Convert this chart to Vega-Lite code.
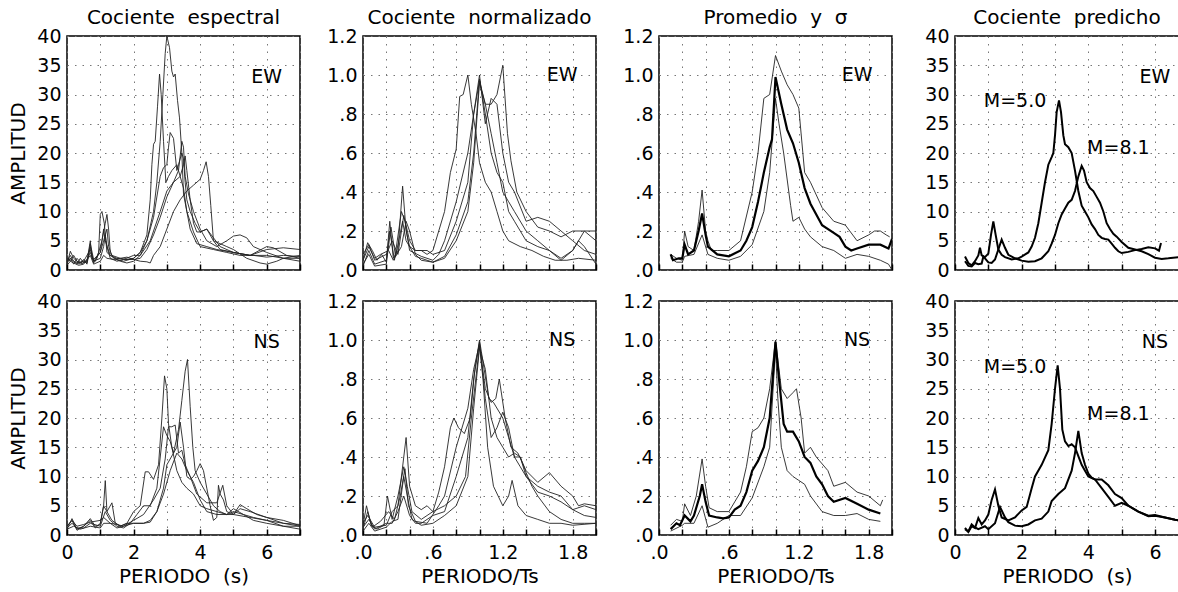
{
"$schema":"https://vega.github.io/schema/vega-lite/v6.json",
"background":"white",
"padding":{"left":8,"top":7,"right":0,"bottom":0},
"columns":4,
"spacing":{"row":31,"column":63},
"bounds":"flush",
"config":{
 "view":{"stroke":"black","strokeWidth":1.5},
 "font":"DejaVu Sans",
 "axis":{"labelFont":"DejaVu Sans","labelFontSize":19,"labelColor":"black","titleFont":"DejaVu Sans","titleFontSize":20,"titleFontWeight":"normal","titleColor":"black","domain":false,"grid":true,"gridColor":"#777","gridDash":[1.5,6],"gridWidth":1,"labelFlush":false,"labelOverlap":false,"tickColor":"black","tickWidth":1.5},
 "axisY":{"ticks":false,"labelPadding":6,"titlePadding":8},
 "axisX":{"tickSize":-6,"labelPadding":14,"titlePadding":4},
 "title":{"font":"DejaVu Sans","fontSize":20,"fontWeight":"normal","color":"black","offset":-1,"baseline":"alphabetic"}
},
"concat":[
 {"width":233,"height":234,"title":"Cociente\u00a0\u00a0espectral",
  "encoding":{"x":{"field":"x","type":"quantitative","scale":{"domain":[0,7],"nice":false},"axis":{"values":[0,1,2,3,4,5,6,7],"labels":false,"title":null}},
   "y":{"field":"y","type":"quantitative","scale":{"domain":[0,40],"nice":false},"axis":{"values":[0,5,10,15,20,25,30,35,40],"title":"AMPLITUD"}}},
  "layer":[
   {"data":{"name":"p1e"},"mark":{"type":"line","clip":true,"stroke":"#222","strokeWidth":0.9},"encoding":{"detail":{"field":"c"}}},
   {"data":{"values":[{"t":"EW","x":6,"y":33}]},"mark":{"type":"text","fontSize":19,"font":"DejaVu Sans","color":"black"},"encoding":{"text":{"field":"t"}}}
  ]},
 {"width":233,"height":234,"title":"Cociente\u00a0\u00a0normalizado",
  "encoding":{"x":{"field":"x","type":"quantitative","scale":{"domain":[0,2],"nice":false},"axis":{"values":[0,0.2,0.4,0.6,0.8,1,1.2,1.4,1.6,1.8,2],"labels":false,"title":null}},
   "y":{"field":"y","type":"quantitative","scale":{"domain":[0,1.2],"nice":false},"axis":{"values":[0,0.2,0.4,0.6,0.8,1,1.2],"title":null,"labelExpr":"datum.value < 1 ? slice(format(datum.value,'.1f'),1) : format(datum.value,'.1f')"}}},
  "layer":[
   {"data":{"name":"p2e"},"mark":{"type":"line","clip":true,"stroke":"#222","strokeWidth":0.9},"encoding":{"detail":{"field":"c"}}},
   {"data":{"values":[{"t":"EW","x":1.71,"y":1.0}]},"mark":{"type":"text","fontSize":19,"font":"DejaVu Sans","color":"black"},"encoding":{"text":{"field":"t"}}}
  ]},
 {"width":233,"height":234,"title":"Promedio\u00a0\u00a0y\u00a0\u00a0σ",
  "encoding":{"x":{"field":"x","type":"quantitative","scale":{"domain":[0,2],"nice":false},"axis":{"values":[0,0.2,0.4,0.6,0.8,1,1.2,1.4,1.6,1.8,2],"labels":false,"title":null}},
   "y":{"field":"y","type":"quantitative","scale":{"domain":[0,1.2],"nice":false},"axis":{"values":[0,0.2,0.4,0.6,0.8,1,1.2],"title":null,"labelExpr":"datum.value < 1 ? slice(format(datum.value,'.1f'),1) : format(datum.value,'.1f')"}}},
  "layer":[
   {"data":{"name":"p3e"},"transform":[{"filter":"datum.c !== 'm'"}],"mark":{"type":"line","clip":true,"stroke":"#222","strokeWidth":0.9},"encoding":{"detail":{"field":"c"}}},
   {"data":{"name":"p3e"},"transform":[{"filter":"datum.c === 'm'"}],"mark":{"type":"line","clip":true,"stroke":"black","strokeWidth":2.2},"encoding":{"detail":{"field":"c"}}},
   {"data":{"values":[{"t":"EW","x":1.7,"y":1.0}]},"mark":{"type":"text","fontSize":19,"font":"DejaVu Sans","color":"black"},"encoding":{"text":{"field":"t"}}}
  ]},
 {"width":224,"height":234,"title":"Cociente\u00a0\u00a0predicho",
  "encoding":{"x":{"field":"x","type":"quantitative","scale":{"domain":[0,6.72],"nice":false},"axis":{"values":[0,1,2,3,4,5,6],"labels":false,"title":null}},
   "y":{"field":"y","type":"quantitative","scale":{"domain":[0,40],"nice":false},"axis":{"values":[0,5,10,15,20,25,30,35,40],"title":null}}},
  "layer":[
   {"data":{"name":"p4e"},"mark":{"type":"line","clip":true,"stroke":"black","strokeWidth":2},"encoding":{"detail":{"field":"c"}}},
   {"data":{"values":[{"t":"EW","x":6,"y":33},{"t":"M=5.0","x":1.8,"y":28.9},{"t":"M=8.1","x":4.9,"y":20.9}]},"mark":{"type":"text","fontSize":19,"font":"DejaVu Sans","color":"black"},"encoding":{"text":{"field":"t"}}}
  ]},
 {"width":233,"height":234,
  "encoding":{"x":{"field":"x","type":"quantitative","scale":{"domain":[0,7],"nice":false},"axis":{"values":[0,1,2,3,4,5,6,7],"title":"PERIODO\u00a0\u00a0(s)","labelExpr":"datum.value % 2 === 0 ? datum.label : ''"}},
   "y":{"field":"y","type":"quantitative","scale":{"domain":[0,40],"nice":false},"axis":{"values":[0,5,10,15,20,25,30,35,40],"title":"AMPLITUD"}}},
  "layer":[
   {"data":{"name":"p1n"},"mark":{"type":"line","clip":true,"stroke":"#222","strokeWidth":0.9},"encoding":{"detail":{"field":"c"}}},
   {"data":{"values":[{"t":"NS","x":6,"y":33}]},"mark":{"type":"text","fontSize":19,"font":"DejaVu Sans","color":"black"},"encoding":{"text":{"field":"t"}}}
  ]},
 {"width":233,"height":234,
  "encoding":{"x":{"field":"x","type":"quantitative","scale":{"domain":[0,2],"nice":false},"axis":{"values":[0,0.2,0.4,0.6,0.8,1,1.2,1.4,1.6,1.8,2],"title":"PERIODO/Ts","labelExpr":"(round(datum.value*10) % 6 == 0) ? (datum.value < 1 ? slice(format(datum.value,'.1f'),1) : format(datum.value,'.1f')) : ''"}},
   "y":{"field":"y","type":"quantitative","scale":{"domain":[0,1.2],"nice":false},"axis":{"values":[0,0.2,0.4,0.6,0.8,1,1.2],"title":null,"labelExpr":"datum.value < 1 ? slice(format(datum.value,'.1f'),1) : format(datum.value,'.1f')"}}},
  "layer":[
   {"data":{"name":"p2n"},"mark":{"type":"line","clip":true,"stroke":"#222","strokeWidth":0.9},"encoding":{"detail":{"field":"c"}}},
   {"data":{"values":[{"t":"NS","x":1.71,"y":1.0}]},"mark":{"type":"text","fontSize":19,"font":"DejaVu Sans","color":"black"},"encoding":{"text":{"field":"t"}}}
  ]},
 {"width":233,"height":234,
  "encoding":{"x":{"field":"x","type":"quantitative","scale":{"domain":[0,2],"nice":false},"axis":{"values":[0,0.2,0.4,0.6,0.8,1,1.2,1.4,1.6,1.8,2],"title":"PERIODO/Ts","labelExpr":"(round(datum.value*10) % 6 == 0) ? (datum.value < 1 ? slice(format(datum.value,'.1f'),1) : format(datum.value,'.1f')) : ''"}},
   "y":{"field":"y","type":"quantitative","scale":{"domain":[0,1.2],"nice":false},"axis":{"values":[0,0.2,0.4,0.6,0.8,1,1.2],"title":null,"labelExpr":"datum.value < 1 ? slice(format(datum.value,'.1f'),1) : format(datum.value,'.1f')"}}},
  "layer":[
   {"data":{"name":"p3n"},"transform":[{"filter":"datum.c !== 'm'"}],"mark":{"type":"line","clip":true,"stroke":"#222","strokeWidth":0.9},"encoding":{"detail":{"field":"c"}}},
   {"data":{"name":"p3n"},"transform":[{"filter":"datum.c === 'm'"}],"mark":{"type":"line","clip":true,"stroke":"black","strokeWidth":2.2},"encoding":{"detail":{"field":"c"}}},
   {"data":{"values":[{"t":"NS","x":1.7,"y":1.0}]},"mark":{"type":"text","fontSize":19,"font":"DejaVu Sans","color":"black"},"encoding":{"text":{"field":"t"}}}
  ]},
 {"width":224,"height":234,
  "encoding":{"x":{"field":"x","type":"quantitative","scale":{"domain":[0,6.72],"nice":false},"axis":{"values":[0,1,2,3,4,5,6],"title":"PERIODO\u00a0\u00a0(s)","labelExpr":"datum.value % 2 === 0 ? datum.label : ''"}},
   "y":{"field":"y","type":"quantitative","scale":{"domain":[0,40],"nice":false},"axis":{"values":[0,5,10,15,20,25,30,35,40],"title":null}}},
  "layer":[
   {"data":{"name":"p4n"},"mark":{"type":"line","clip":true,"stroke":"black","strokeWidth":2},"encoding":{"detail":{"field":"c"}}},
   {"data":{"values":[{"t":"NS","x":6,"y":33},{"t":"M=5.0","x":1.8,"y":28.8},{"t":"M=8.1","x":4.9,"y":20.7}]},"mark":{"type":"text","fontSize":19,"font":"DejaVu Sans","color":"black"},"encoding":{"text":{"field":"t"}}}
  ]}
],
"datasets":{
"p1e":[
{"c":"a","x":0,"y":1.5},{"c":"a","x":0.1,"y":2.5},{"c":"a","x":0.2,"y":1.5},{"c":"a","x":0.3,"y":1.0},{"c":"a","x":0.4,"y":2},{"c":"a","x":0.5,"y":1.2},{"c":"a","x":0.6,"y":1.5},{"c":"a","x":0.7,"y":5},{"c":"a","x":0.75,"y":2},{"c":"a","x":0.85,"y":1.5},{"c":"a","x":0.95,"y":3},{"c":"a","x":1.0,"y":9.5},{"c":"a","x":1.05,"y":10},{"c":"a","x":1.12,"y":8},{"c":"a","x":1.2,"y":3},{"c":"a","x":1.3,"y":2.5},{"c":"a","x":1.5,"y":1.8},{"c":"a","x":1.7,"y":1.5},{"c":"a","x":2.0,"y":2},{"c":"a","x":2.2,"y":3},{"c":"a","x":2.4,"y":6},{"c":"a","x":2.5,"y":12},{"c":"a","x":2.55,"y":18},{"c":"a","x":2.6,"y":21.5},{"c":"a","x":2.65,"y":22},{"c":"a","x":2.72,"y":28},{"c":"a","x":2.78,"y":33.5},{"c":"a","x":2.83,"y":30},{"c":"a","x":2.9,"y":22},{"c":"a","x":2.97,"y":15},{"c":"a","x":3.05,"y":16},{"c":"a","x":3.15,"y":17},{"c":"a","x":3.3,"y":18},{"c":"a","x":3.5,"y":14},{"c":"a","x":3.6,"y":10},{"c":"a","x":3.7,"y":7},{"c":"a","x":3.9,"y":4.5},{"c":"a","x":4.2,"y":4},{"c":"a","x":4.5,"y":3.5},{"c":"a","x":5.0,"y":3},{"c":"a","x":5.5,"y":2.5},{"c":"a","x":6.0,"y":3.5},{"c":"a","x":6.5,"y":3.8},{"c":"a","x":7,"y":3.5},
{"c":"b","x":0,"y":1},{"c":"b","x":0.1,"y":3.2},{"c":"b","x":0.2,"y":2},{"c":"b","x":0.3,"y":1.5},{"c":"b","x":0.4,"y":1.2},{"c":"b","x":0.5,"y":1.8},{"c":"b","x":0.6,"y":1},{"c":"b","x":0.7,"y":4},{"c":"b","x":0.8,"y":1.2},{"c":"b","x":0.9,"y":2},{"c":"b","x":1.05,"y":5},{"c":"b","x":1.15,"y":8},{"c":"b","x":1.2,"y":9.5},{"c":"b","x":1.25,"y":7},{"c":"b","x":1.3,"y":3},{"c":"b","x":1.4,"y":2},{"c":"b","x":1.6,"y":1.5},{"c":"b","x":1.8,"y":1.2},{"c":"b","x":2.0,"y":1.5},{"c":"b","x":2.2,"y":2.5},{"c":"b","x":2.4,"y":5},{"c":"b","x":2.6,"y":10},{"c":"b","x":2.7,"y":15},{"c":"b","x":2.8,"y":22},{"c":"b","x":2.88,"y":30},{"c":"b","x":2.95,"y":37},{"c":"b","x":3.0,"y":40},{"c":"b","x":3.08,"y":38},{"c":"b","x":3.15,"y":34},{"c":"b","x":3.2,"y":33},{"c":"b","x":3.25,"y":33.5},{"c":"b","x":3.32,"y":29},{"c":"b","x":3.38,"y":26},{"c":"b","x":3.45,"y":20},{"c":"b","x":3.5,"y":13},{"c":"b","x":3.6,"y":10},{"c":"b","x":3.8,"y":6.5},{"c":"b","x":4.0,"y":4},{"c":"b","x":4.4,"y":3.5},{"c":"b","x":4.8,"y":3},{"c":"b","x":5.2,"y":2.5},{"c":"b","x":5.6,"y":2.5},{"c":"b","x":6.0,"y":2.2},{"c":"b","x":6.5,"y":2.5},{"c":"b","x":7,"y":2.3},
{"c":"c","x":0,"y":2},{"c":"c","x":0.1,"y":1.5},{"c":"c","x":0.2,"y":2.5},{"c":"c","x":0.35,"y":1},{"c":"c","x":0.5,"y":1.5},{"c":"c","x":0.6,"y":1.2},{"c":"c","x":0.7,"y":4.5},{"c":"c","x":0.8,"y":1.8},{"c":"c","x":1.0,"y":3},{"c":"c","x":1.1,"y":5},{"c":"c","x":1.2,"y":7},{"c":"c","x":1.25,"y":4},{"c":"c","x":1.35,"y":2.5},{"c":"c","x":1.6,"y":2},{"c":"c","x":1.8,"y":1.8},{"c":"c","x":2.0,"y":2},{"c":"c","x":2.2,"y":3},{"c":"c","x":2.4,"y":5},{"c":"c","x":2.6,"y":9},{"c":"c","x":2.8,"y":16},{"c":"c","x":2.9,"y":17.5},{"c":"c","x":3.0,"y":18},{"c":"c","x":3.05,"y":21},{"c":"c","x":3.1,"y":23.5},{"c":"c","x":3.2,"y":22.5},{"c":"c","x":3.3,"y":17},{"c":"c","x":3.35,"y":18},{"c":"c","x":3.45,"y":20},{"c":"c","x":3.5,"y":19},{"c":"c","x":3.55,"y":15},{"c":"c","x":3.6,"y":12},{"c":"c","x":3.7,"y":10},{"c":"c","x":3.85,"y":8},{"c":"c","x":4.0,"y":6.5},{"c":"c","x":4.2,"y":7},{"c":"c","x":4.4,"y":5},{"c":"c","x":4.6,"y":3.5},{"c":"c","x":5.0,"y":3},{"c":"c","x":5.5,"y":2.5},{"c":"c","x":6.0,"y":2.5},{"c":"c","x":6.5,"y":2},{"c":"c","x":7,"y":2},
{"c":"d","x":0,"y":1.2},{"c":"d","x":0.1,"y":2},{"c":"d","x":0.2,"y":1},{"c":"d","x":0.3,"y":2},{"c":"d","x":0.45,"y":1},{"c":"d","x":0.6,"y":1.8},{"c":"d","x":0.7,"y":3},{"c":"d","x":0.8,"y":1.5},{"c":"d","x":1.0,"y":2},{"c":"d","x":1.1,"y":4},{"c":"d","x":1.15,"y":6},{"c":"d","x":1.2,"y":4},{"c":"d","x":1.3,"y":2},{"c":"d","x":1.5,"y":1.5},{"c":"d","x":1.7,"y":1.8},{"c":"d","x":2.0,"y":1.8},{"c":"d","x":2.2,"y":2},{"c":"d","x":2.4,"y":3.5},{"c":"d","x":2.6,"y":6},{"c":"d","x":2.8,"y":9},{"c":"d","x":3.0,"y":12.5},{"c":"d","x":3.2,"y":15},{"c":"d","x":3.35,"y":17},{"c":"d","x":3.45,"y":22},{"c":"d","x":3.5,"y":21},{"c":"d","x":3.55,"y":16},{"c":"d","x":3.65,"y":13},{"c":"d","x":3.8,"y":10},{"c":"d","x":4.0,"y":7},{"c":"d","x":4.2,"y":5},{"c":"d","x":4.5,"y":4},{"c":"d","x":4.8,"y":5},{"c":"d","x":5.0,"y":5.8},{"c":"d","x":5.2,"y":6},{"c":"d","x":5.4,"y":5.5},{"c":"d","x":5.6,"y":4},{"c":"d","x":6.0,"y":3},{"c":"d","x":6.5,"y":2},{"c":"d","x":7,"y":1.5},
{"c":"e","x":0,"y":0.8},{"c":"e","x":0.1,"y":1.5},{"c":"e","x":0.2,"y":1.2},{"c":"e","x":0.35,"y":0.8},{"c":"e","x":0.5,"y":1},{"c":"e","x":0.7,"y":2.5},{"c":"e","x":0.8,"y":1},{"c":"e","x":1.0,"y":1.5},{"c":"e","x":1.1,"y":2.5},{"c":"e","x":1.2,"y":2},{"c":"e","x":1.4,"y":1.8},{"c":"e","x":1.6,"y":2},{"c":"e","x":1.8,"y":2.2},{"c":"e","x":2.0,"y":1.8},{"c":"e","x":2.2,"y":1.5},{"c":"e","x":2.4,"y":1.4},{"c":"e","x":2.5,"y":1.2},{"c":"e","x":2.6,"y":2.5},{"c":"e","x":2.8,"y":4},{"c":"e","x":3.0,"y":7},{"c":"e","x":3.2,"y":10},{"c":"e","x":3.4,"y":12},{"c":"e","x":3.6,"y":13.5},{"c":"e","x":3.8,"y":14.5},{"c":"e","x":4.0,"y":15.5},{"c":"e","x":4.1,"y":17},{"c":"e","x":4.18,"y":18.5},{"c":"e","x":4.25,"y":16},{"c":"e","x":4.32,"y":11},{"c":"e","x":4.4,"y":5},{"c":"e","x":4.6,"y":4.5},{"c":"e","x":4.8,"y":4},{"c":"e","x":5.0,"y":3.5},{"c":"e","x":5.4,"y":2},{"c":"e","x":5.8,"y":1.2},{"c":"e","x":6.0,"y":1},{"c":"e","x":6.3,"y":1.5},{"c":"e","x":6.5,"y":2},{"c":"e","x":7,"y":2.5},
{"c":"f","x":0,"y":1.5},{"c":"f","x":0.1,"y":2},{"c":"f","x":0.2,"y":1.5},{"c":"f","x":0.3,"y":1.2},{"c":"f","x":0.5,"y":1.5},{"c":"f","x":0.7,"y":3.5},{"c":"f","x":0.8,"y":1.5},{"c":"f","x":1.0,"y":3},{"c":"f","x":1.1,"y":7},{"c":"f","x":1.15,"y":5},{"c":"f","x":1.3,"y":2.5},{"c":"f","x":1.5,"y":2},{"c":"f","x":1.7,"y":1.8},{"c":"f","x":2.0,"y":2.5},{"c":"f","x":2.2,"y":2.5},{"c":"f","x":2.5,"y":5},{"c":"f","x":2.8,"y":10},{"c":"f","x":3.0,"y":13.5},{"c":"f","x":3.2,"y":15},{"c":"f","x":3.4,"y":16},{"c":"f","x":3.5,"y":18},{"c":"f","x":3.55,"y":19.5},{"c":"f","x":3.6,"y":17},{"c":"f","x":3.7,"y":12},{"c":"f","x":3.8,"y":8},{"c":"f","x":3.9,"y":6.5},{"c":"f","x":4.0,"y":6.5},{"c":"f","x":4.2,"y":7},{"c":"f","x":4.4,"y":5.5},{"c":"f","x":4.6,"y":4},{"c":"f","x":5.0,"y":3},{"c":"f","x":5.5,"y":2.5},{"c":"f","x":6.0,"y":4},{"c":"f","x":6.2,"y":3.8},{"c":"f","x":6.6,"y":2.5},{"c":"f","x":7,"y":2}
],
"p1n":[
{"c":"p","x":0,"y":1},{"c":"p","x":0.15,"y":2.8},{"c":"p","x":0.3,"y":1},{"c":"p","x":0.5,"y":1.5},{"c":"p","x":0.7,"y":2.5},{"c":"p","x":0.85,"y":1.2},{"c":"p","x":1.0,"y":2},{"c":"p","x":1.1,"y":5},{"c":"p","x":1.2,"y":4},{"c":"p","x":1.35,"y":2.5},{"c":"p","x":1.6,"y":1.5},{"c":"p","x":1.8,"y":2},{"c":"p","x":2.0,"y":4},{"c":"p","x":2.2,"y":5},{"c":"p","x":2.35,"y":10.8},{"c":"p","x":2.45,"y":10.8},{"c":"p","x":2.6,"y":9.5},{"c":"p","x":2.75,"y":12},{"c":"p","x":2.85,"y":20},{"c":"p","x":2.93,"y":27.2},{"c":"p","x":3.0,"y":25},{"c":"p","x":3.05,"y":19},{"c":"p","x":3.15,"y":15},{"c":"p","x":3.3,"y":11},{"c":"p","x":3.45,"y":9},{"c":"p","x":3.6,"y":8},{"c":"p","x":3.8,"y":7},{"c":"p","x":4.0,"y":5},{"c":"p","x":4.2,"y":4.5},{"c":"p","x":4.5,"y":4},{"c":"p","x":4.8,"y":3.5},{"c":"p","x":5.0,"y":4},{"c":"p","x":5.3,"y":3.5},{"c":"p","x":5.6,"y":3},{"c":"p","x":6.0,"y":2.5},{"c":"p","x":6.5,"y":2},{"c":"p","x":7,"y":1.5},
{"c":"q","x":0,"y":1.5},{"c":"q","x":0.15,"y":2.5},{"c":"q","x":0.3,"y":0.8},{"c":"q","x":0.5,"y":1.5},{"c":"q","x":0.7,"y":2.8},{"c":"q","x":0.85,"y":1.5},{"c":"q","x":1.0,"y":1.8},{"c":"q","x":1.1,"y":5},{"c":"q","x":1.15,"y":9.3},{"c":"q","x":1.2,"y":4},{"c":"q","x":1.35,"y":5.5},{"c":"q","x":1.45,"y":2},{"c":"q","x":1.6,"y":1.5},{"c":"q","x":1.8,"y":2},{"c":"q","x":2.0,"y":2},{"c":"q","x":2.3,"y":2},{"c":"q","x":2.5,"y":2.5},{"c":"q","x":2.7,"y":4},{"c":"q","x":2.9,"y":8},{"c":"q","x":3.0,"y":12},{"c":"q","x":3.2,"y":14},{"c":"q","x":3.35,"y":18},{"c":"q","x":3.45,"y":23},{"c":"q","x":3.55,"y":28},{"c":"q","x":3.62,"y":30},{"c":"q","x":3.7,"y":22},{"c":"q","x":3.78,"y":15},{"c":"q","x":3.85,"y":11},{"c":"q","x":4.0,"y":9},{"c":"q","x":4.2,"y":7},{"c":"q","x":4.4,"y":5},{"c":"q","x":4.6,"y":4},{"c":"q","x":4.8,"y":3.5},{"c":"q","x":5.0,"y":3.5},{"c":"q","x":5.5,"y":3},{"c":"q","x":6.0,"y":2.5},{"c":"q","x":6.5,"y":1.5},{"c":"q","x":7,"y":1},
{"c":"r","x":0,"y":1.2},{"c":"r","x":0.15,"y":2},{"c":"r","x":0.3,"y":1.2},{"c":"r","x":0.5,"y":1.2},{"c":"r","x":0.7,"y":2},{"c":"r","x":1.0,"y":1.5},{"c":"r","x":1.15,"y":4},{"c":"r","x":1.3,"y":2.5},{"c":"r","x":1.5,"y":1.5},{"c":"r","x":1.7,"y":1.2},{"c":"r","x":1.9,"y":2},{"c":"r","x":2.1,"y":3.5},{"c":"r","x":2.3,"y":5},{"c":"r","x":2.5,"y":5},{"c":"r","x":2.7,"y":8},{"c":"r","x":2.9,"y":18.5},{"c":"r","x":3.0,"y":17},{"c":"r","x":3.1,"y":16},{"c":"r","x":3.2,"y":14},{"c":"r","x":3.3,"y":15},{"c":"r","x":3.4,"y":19.3},{"c":"r","x":3.5,"y":15},{"c":"r","x":3.6,"y":10},{"c":"r","x":3.7,"y":9.5},{"c":"r","x":3.8,"y":10},{"c":"r","x":3.9,"y":11},{"c":"r","x":4.0,"y":12.2},{"c":"r","x":4.1,"y":11},{"c":"r","x":4.2,"y":8},{"c":"r","x":4.3,"y":5},{"c":"r","x":4.4,"y":2.5},{"c":"r","x":4.5,"y":3},{"c":"r","x":4.55,"y":8.5},{"c":"r","x":4.6,"y":7},{"c":"r","x":4.7,"y":6},{"c":"r","x":4.8,"y":4},{"c":"r","x":5.0,"y":3.5},{"c":"r","x":5.2,"y":5.2},{"c":"r","x":5.4,"y":4.5},{"c":"r","x":5.7,"y":3.5},{"c":"r","x":6.0,"y":3},{"c":"r","x":6.5,"y":2},{"c":"r","x":7,"y":1.8},
{"c":"s","x":0,"y":1.5},{"c":"s","x":0.15,"y":2.5},{"c":"s","x":0.3,"y":1.5},{"c":"s","x":0.5,"y":1.8},{"c":"s","x":0.7,"y":2.2},{"c":"s","x":1.0,"y":2.5},{"c":"s","x":1.1,"y":3},{"c":"s","x":1.3,"y":2},{"c":"s","x":1.5,"y":1.8},{"c":"s","x":1.7,"y":1.5},{"c":"s","x":2.0,"y":2.5},{"c":"s","x":2.3,"y":3.5},{"c":"s","x":2.6,"y":6},{"c":"s","x":2.8,"y":8},{"c":"s","x":2.95,"y":13},{"c":"s","x":3.05,"y":18.5},{"c":"s","x":3.15,"y":18.5},{"c":"s","x":3.25,"y":18.8},{"c":"s","x":3.35,"y":14},{"c":"s","x":3.45,"y":14.5},{"c":"s","x":3.55,"y":12},{"c":"s","x":3.7,"y":10},{"c":"s","x":3.9,"y":7},{"c":"s","x":4.2,"y":5.5},{"c":"s","x":4.5,"y":5.5},{"c":"s","x":4.68,"y":8.5},{"c":"s","x":4.8,"y":5},{"c":"s","x":5.0,"y":3.5},{"c":"s","x":5.2,"y":4.5},{"c":"s","x":5.5,"y":4},{"c":"s","x":6.0,"y":3},{"c":"s","x":6.5,"y":2.5},{"c":"s","x":7,"y":1.6},
{"c":"t","x":0,"y":1},{"c":"t","x":0.2,"y":1.5},{"c":"t","x":0.4,"y":1},{"c":"t","x":0.7,"y":1.5},{"c":"t","x":1.0,"y":1.2},{"c":"t","x":1.1,"y":2},{"c":"t","x":1.3,"y":2},{"c":"t","x":1.5,"y":1.2},{"c":"t","x":1.7,"y":1.5},{"c":"t","x":2.0,"y":2},{"c":"t","x":2.3,"y":2},{"c":"t","x":2.5,"y":2.2},{"c":"t","x":2.7,"y":4},{"c":"t","x":2.9,"y":7},{"c":"t","x":3.1,"y":11},{"c":"t","x":3.3,"y":14},{"c":"t","x":3.45,"y":13},{"c":"t","x":3.6,"y":11},{"c":"t","x":3.8,"y":9},{"c":"t","x":4.0,"y":6},{"c":"t","x":4.2,"y":4},{"c":"t","x":4.5,"y":3.5},{"c":"t","x":4.8,"y":3.5},{"c":"t","x":5.0,"y":4.5},{"c":"t","x":5.3,"y":3.5},{"c":"t","x":5.6,"y":2.5},{"c":"t","x":6.0,"y":2},{"c":"t","x":6.5,"y":1.5},{"c":"t","x":7,"y":1.5}
],
"p2e":[
{"c":"a","x":0,"y":0.05},{"c":"a","x":0.04,"y":0.14},{"c":"a","x":0.08,"y":0.1},{"c":"a","x":0.12,"y":0.05},{"c":"a","x":0.16,"y":0.08},{"c":"a","x":0.2,"y":0.04},{"c":"a","x":0.23,"y":0.25},{"c":"a","x":0.26,"y":0.06},{"c":"a","x":0.3,"y":0.1},{"c":"a","x":0.34,"y":0.43},{"c":"a","x":0.37,"y":0.2},{"c":"a","x":0.4,"y":0.12},{"c":"a","x":0.45,"y":0.1},{"c":"a","x":0.5,"y":0.1},{"c":"a","x":0.55,"y":0.08},{"c":"a","x":0.6,"y":0.1},{"c":"a","x":0.65,"y":0.2},{"c":"a","x":0.7,"y":0.3},{"c":"a","x":0.75,"y":0.5},{"c":"a","x":0.8,"y":0.62},{"c":"a","x":0.83,"y":0.89},{"c":"a","x":0.86,"y":0.9},{"c":"a","x":0.9,"y":1.0},{"c":"a","x":0.93,"y":0.85},{"c":"a","x":0.97,"y":0.7},{"c":"a","x":1.0,"y":0.55},{"c":"a","x":1.05,"y":0.45},{"c":"a","x":1.1,"y":0.4},{"c":"a","x":1.15,"y":0.3},{"c":"a","x":1.2,"y":0.2},{"c":"a","x":1.25,"y":0.15},{"c":"a","x":1.35,"y":0.12},{"c":"a","x":1.45,"y":0.1},{"c":"a","x":1.55,"y":0.07},{"c":"a","x":1.65,"y":0.05},{"c":"a","x":1.75,"y":0.05},{"c":"a","x":1.85,"y":0.06},{"c":"a","x":2.0,"y":0.05},
{"c":"b","x":0,"y":0.02},{"c":"b","x":0.05,"y":0.1},{"c":"b","x":0.1,"y":0.03},{"c":"b","x":0.2,"y":0.05},{"c":"b","x":0.23,"y":0.2},{"c":"b","x":0.27,"y":0.05},{"c":"b","x":0.33,"y":0.3},{"c":"b","x":0.36,"y":0.25},{"c":"b","x":0.4,"y":0.1},{"c":"b","x":0.5,"y":0.07},{"c":"b","x":0.6,"y":0.05},{"c":"b","x":0.65,"y":0.08},{"c":"b","x":0.7,"y":0.15},{"c":"b","x":0.8,"y":0.35},{"c":"b","x":0.9,"y":0.6},{"c":"b","x":0.95,"y":0.8},{"c":"b","x":1.0,"y":0.97},{"c":"b","x":1.05,"y":0.85},{"c":"b","x":1.1,"y":0.85},{"c":"b","x":1.15,"y":0.9},{"c":"b","x":1.2,"y":1.05},{"c":"b","x":1.24,"y":0.7},{"c":"b","x":1.27,"y":0.56},{"c":"b","x":1.32,"y":0.4},{"c":"b","x":1.4,"y":0.3},{"c":"b","x":1.5,"y":0.22},{"c":"b","x":1.6,"y":0.2},{"c":"b","x":1.7,"y":0.17},{"c":"b","x":1.8,"y":0.2},{"c":"b","x":1.9,"y":0.2},{"c":"b","x":2.0,"y":0.15},
{"c":"c","x":0,"y":0.08},{"c":"c","x":0.05,"y":0.13},{"c":"c","x":0.1,"y":0.05},{"c":"c","x":0.2,"y":0.08},{"c":"c","x":0.25,"y":0.15},{"c":"c","x":0.3,"y":0.08},{"c":"c","x":0.35,"y":0.28},{"c":"c","x":0.4,"y":0.15},{"c":"c","x":0.45,"y":0.1},{"c":"c","x":0.55,"y":0.1},{"c":"c","x":0.6,"y":0.08},{"c":"c","x":0.7,"y":0.1},{"c":"c","x":0.8,"y":0.25},{"c":"c","x":0.9,"y":0.45},{"c":"c","x":0.95,"y":0.8},{"c":"c","x":1.0,"y":1.0},{"c":"c","x":1.05,"y":0.75},{"c":"c","x":1.1,"y":0.88},{"c":"c","x":1.15,"y":0.85},{"c":"c","x":1.2,"y":0.6},{"c":"c","x":1.25,"y":0.45},{"c":"c","x":1.3,"y":0.4},{"c":"c","x":1.4,"y":0.25},{"c":"c","x":1.5,"y":0.27},{"c":"c","x":1.6,"y":0.25},{"c":"c","x":1.7,"y":0.2},{"c":"c","x":1.8,"y":0.15},{"c":"c","x":1.9,"y":0.1},{"c":"c","x":2.0,"y":0.08},
{"c":"d","x":0,"y":0.03},{"c":"d","x":0.05,"y":0.08},{"c":"d","x":0.1,"y":0.02},{"c":"d","x":0.2,"y":0.03},{"c":"d","x":0.24,"y":0.22},{"c":"d","x":0.28,"y":0.07},{"c":"d","x":0.34,"y":0.25},{"c":"d","x":0.37,"y":0.15},{"c":"d","x":0.45,"y":0.07},{"c":"d","x":0.55,"y":0.05},{"c":"d","x":0.6,"y":0.04},{"c":"d","x":0.7,"y":0.07},{"c":"d","x":0.8,"y":0.18},{"c":"d","x":0.9,"y":0.35},{"c":"d","x":0.95,"y":0.6},{"c":"d","x":1.0,"y":0.98},{"c":"d","x":1.05,"y":0.8},{"c":"d","x":1.1,"y":0.6},{"c":"d","x":1.15,"y":0.5},{"c":"d","x":1.2,"y":0.45},{"c":"d","x":1.25,"y":0.3},{"c":"d","x":1.3,"y":0.25},{"c":"d","x":1.35,"y":0.2},{"c":"d","x":1.4,"y":0.15},{"c":"d","x":1.5,"y":0.12},{"c":"d","x":1.6,"y":0.1},{"c":"d","x":1.7,"y":0.06},{"c":"d","x":1.8,"y":0.1},{"c":"d","x":1.9,"y":0.2},{"c":"d","x":2.0,"y":0.2},
{"c":"e","x":0,"y":0.05},{"c":"e","x":0.05,"y":0.12},{"c":"e","x":0.1,"y":0.06},{"c":"e","x":0.15,"y":0.08},{"c":"e","x":0.22,"y":0.1},{"c":"e","x":0.26,"y":0.05},{"c":"e","x":0.33,"y":0.12},{"c":"e","x":0.37,"y":0.25},{"c":"e","x":0.4,"y":0.2},{"c":"e","x":0.45,"y":0.08},{"c":"e","x":0.5,"y":0.05},{"c":"e","x":0.6,"y":0.04},{"c":"e","x":0.7,"y":0.06},{"c":"e","x":0.8,"y":0.15},{"c":"e","x":0.9,"y":0.3},{"c":"e","x":0.95,"y":0.55},{"c":"e","x":1.0,"y":0.96},{"c":"e","x":1.05,"y":0.85},{"c":"e","x":1.1,"y":0.7},{"c":"e","x":1.15,"y":0.55},{"c":"e","x":1.2,"y":0.4},{"c":"e","x":1.25,"y":0.35},{"c":"e","x":1.3,"y":0.3},{"c":"e","x":1.4,"y":0.2},{"c":"e","x":1.5,"y":0.15},{"c":"e","x":1.6,"y":0.1},{"c":"e","x":1.7,"y":0.05},{"c":"e","x":1.8,"y":0.1},{"c":"e","x":1.85,"y":0.15},{"c":"e","x":1.9,"y":0.12},{"c":"e","x":2.0,"y":0.03}
],
"p2n":[
{"c":"a","x":0,"y":0.05},{"c":"a","x":0.03,"y":0.15},{"c":"a","x":0.07,"y":0.05},{"c":"a","x":0.12,"y":0.03},{"c":"a","x":0.18,"y":0.05},{"c":"a","x":0.21,"y":0.2},{"c":"a","x":0.25,"y":0.08},{"c":"a","x":0.3,"y":0.2},{"c":"a","x":0.35,"y":0.35},{"c":"a","x":0.38,"y":0.25},{"c":"a","x":0.42,"y":0.12},{"c":"a","x":0.5,"y":0.08},{"c":"a","x":0.55,"y":0.1},{"c":"a","x":0.6,"y":0.12},{"c":"a","x":0.65,"y":0.22},{"c":"a","x":0.7,"y":0.35},{"c":"a","x":0.75,"y":0.55},{"c":"a","x":0.78,"y":0.6},{"c":"a","x":0.82,"y":0.55},{"c":"a","x":0.87,"y":0.52},{"c":"a","x":0.92,"y":0.6},{"c":"a","x":0.96,"y":0.85},{"c":"a","x":1.0,"y":1.0},{"c":"a","x":1.04,"y":0.85},{"c":"a","x":1.08,"y":0.7},{"c":"a","x":1.12,"y":0.68},{"c":"a","x":1.2,"y":0.6},{"c":"a","x":1.25,"y":0.5},{"c":"a","x":1.3,"y":0.4},{"c":"a","x":1.35,"y":0.35},{"c":"a","x":1.4,"y":0.3},{"c":"a","x":1.5,"y":0.25},{"c":"a","x":1.6,"y":0.22},{"c":"a","x":1.7,"y":0.2},{"c":"a","x":1.8,"y":0.13},{"c":"a","x":1.9,"y":0.15},{"c":"a","x":2.0,"y":0.13},
{"c":"b","x":0,"y":0.03},{"c":"b","x":0.04,"y":0.12},{"c":"b","x":0.08,"y":0.04},{"c":"b","x":0.15,"y":0.07},{"c":"b","x":0.22,"y":0.12},{"c":"b","x":0.27,"y":0.08},{"c":"b","x":0.32,"y":0.2},{"c":"b","x":0.36,"y":0.34},{"c":"b","x":0.39,"y":0.15},{"c":"b","x":0.45,"y":0.07},{"c":"b","x":0.55,"y":0.06},{"c":"b","x":0.65,"y":0.15},{"c":"b","x":0.7,"y":0.2},{"c":"b","x":0.8,"y":0.45},{"c":"b","x":0.9,"y":0.65},{"c":"b","x":0.95,"y":0.85},{"c":"b","x":1.0,"y":0.98},{"c":"b","x":1.05,"y":0.75},{"c":"b","x":1.1,"y":0.68},{"c":"b","x":1.14,"y":0.7},{"c":"b","x":1.17,"y":0.8},{"c":"b","x":1.22,"y":0.6},{"c":"b","x":1.27,"y":0.45},{"c":"b","x":1.33,"y":0.42},{"c":"b","x":1.4,"y":0.33},{"c":"b","x":1.5,"y":0.27},{"c":"b","x":1.6,"y":0.32},{"c":"b","x":1.7,"y":0.25},{"c":"b","x":1.8,"y":0.2},{"c":"b","x":1.85,"y":0.15},{"c":"b","x":1.9,"y":0.16},{"c":"b","x":2.0,"y":0.15},
{"c":"c","x":0,"y":0.06},{"c":"c","x":0.04,"y":0.1},{"c":"c","x":0.1,"y":0.04},{"c":"c","x":0.2,"y":0.05},{"c":"c","x":0.25,"y":0.12},{"c":"c","x":0.3,"y":0.15},{"c":"c","x":0.37,"y":0.5},{"c":"c","x":0.4,"y":0.25},{"c":"c","x":0.45,"y":0.15},{"c":"c","x":0.5,"y":0.13},{"c":"c","x":0.55,"y":0.15},{"c":"c","x":0.6,"y":0.12},{"c":"c","x":0.7,"y":0.15},{"c":"c","x":0.8,"y":0.2},{"c":"c","x":0.88,"y":0.3},{"c":"c","x":0.93,"y":0.6},{"c":"c","x":1.0,"y":0.97},{"c":"c","x":1.03,"y":0.8},{"c":"c","x":1.07,"y":0.45},{"c":"c","x":1.12,"y":0.25},{"c":"c","x":1.2,"y":0.15},{"c":"c","x":1.25,"y":0.2},{"c":"c","x":1.28,"y":0.28},{"c":"c","x":1.33,"y":0.15},{"c":"c","x":1.4,"y":0.1},{"c":"c","x":1.5,"y":0.08},{"c":"c","x":1.6,"y":0.06},{"c":"c","x":1.7,"y":0.06},{"c":"c","x":1.8,"y":0.05},{"c":"c","x":2.0,"y":0.06},
{"c":"d","x":0,"y":0.04},{"c":"d","x":0.05,"y":0.08},{"c":"d","x":0.1,"y":0.03},{"c":"d","x":0.2,"y":0.06},{"c":"d","x":0.25,"y":0.06},{"c":"d","x":0.3,"y":0.12},{"c":"d","x":0.35,"y":0.2},{"c":"d","x":0.4,"y":0.1},{"c":"d","x":0.45,"y":0.06},{"c":"d","x":0.5,"y":0.06},{"c":"d","x":0.6,"y":0.1},{"c":"d","x":0.7,"y":0.12},{"c":"d","x":0.8,"y":0.3},{"c":"d","x":0.85,"y":0.4},{"c":"d","x":0.9,"y":0.5},{"c":"d","x":0.95,"y":0.8},{"c":"d","x":1.0,"y":0.99},{"c":"d","x":1.05,"y":0.7},{"c":"d","x":1.1,"y":0.5},{"c":"d","x":1.15,"y":0.55},{"c":"d","x":1.2,"y":0.63},{"c":"d","x":1.25,"y":0.55},{"c":"d","x":1.3,"y":0.4},{"c":"d","x":1.35,"y":0.4},{"c":"d","x":1.4,"y":0.3},{"c":"d","x":1.5,"y":0.22},{"c":"d","x":1.6,"y":0.2},{"c":"d","x":1.7,"y":0.17},{"c":"d","x":1.8,"y":0.13},{"c":"d","x":1.9,"y":0.1},{"c":"d","x":2.0,"y":0.09},
{"c":"e","x":0,"y":0.02},{"c":"e","x":0.05,"y":0.06},{"c":"e","x":0.1,"y":0.02},{"c":"e","x":0.2,"y":0.04},{"c":"e","x":0.25,"y":0.07},{"c":"e","x":0.3,"y":0.08},{"c":"e","x":0.35,"y":0.3},{"c":"e","x":0.38,"y":0.2},{"c":"e","x":0.42,"y":0.08},{"c":"e","x":0.5,"y":0.05},{"c":"e","x":0.6,"y":0.06},{"c":"e","x":0.7,"y":0.1},{"c":"e","x":0.8,"y":0.15},{"c":"e","x":0.9,"y":0.3},{"c":"e","x":0.95,"y":0.65},{"c":"e","x":1.0,"y":0.96},{"c":"e","x":1.05,"y":0.85},{"c":"e","x":1.1,"y":0.6},{"c":"e","x":1.15,"y":0.5},{"c":"e","x":1.2,"y":0.45},{"c":"e","x":1.25,"y":0.4},{"c":"e","x":1.3,"y":0.42},{"c":"e","x":1.35,"y":0.4},{"c":"e","x":1.4,"y":0.32},{"c":"e","x":1.45,"y":0.25},{"c":"e","x":1.5,"y":0.2},{"c":"e","x":1.6,"y":0.12},{"c":"e","x":1.7,"y":0.08},{"c":"e","x":1.8,"y":0.06},{"c":"e","x":1.9,"y":0.06},{"c":"e","x":2.0,"y":0.06}
],
"p3e":[
{"c":"m","x":0.1,"y":0.08},{"c":"m","x":0.12,"y":0.05},{"c":"m","x":0.17,"y":0.06},{"c":"m","x":0.2,"y":0.06},{"c":"m","x":0.22,"y":0.13},{"c":"m","x":0.25,"y":0.08},{"c":"m","x":0.3,"y":0.1},{"c":"m","x":0.34,"y":0.2},{"c":"m","x":0.37,"y":0.29},{"c":"m","x":0.4,"y":0.18},{"c":"m","x":0.42,"y":0.12},{"c":"m","x":0.5,"y":0.08},{"c":"m","x":0.6,"y":0.07},{"c":"m","x":0.7,"y":0.1},{"c":"m","x":0.75,"y":0.15},{"c":"m","x":0.8,"y":0.22},{"c":"m","x":0.85,"y":0.35},{"c":"m","x":0.9,"y":0.5},{"c":"m","x":0.95,"y":0.63},{"c":"m","x":0.97,"y":0.67},{"c":"m","x":1.0,"y":0.99},{"c":"m","x":1.05,"y":0.85},{"c":"m","x":1.1,"y":0.72},{"c":"m","x":1.15,"y":0.65},{"c":"m","x":1.2,"y":0.55},{"c":"m","x":1.25,"y":0.42},{"c":"m","x":1.3,"y":0.34},{"c":"m","x":1.4,"y":0.23},{"c":"m","x":1.5,"y":0.19},{"c":"m","x":1.55,"y":0.17},{"c":"m","x":1.6,"y":0.12},{"c":"m","x":1.65,"y":0.1},{"c":"m","x":1.7,"y":0.11},{"c":"m","x":1.8,"y":0.13},{"c":"m","x":1.9,"y":0.13},{"c":"m","x":1.97,"y":0.11},{"c":"m","x":2.0,"y":0.16},
{"c":"h","x":0.1,"y":0.08},{"c":"h","x":0.15,"y":0.06},{"c":"h","x":0.2,"y":0.05},{"c":"h","x":0.22,"y":0.2},{"c":"h","x":0.25,"y":0.12},{"c":"h","x":0.3,"y":0.1},{"c":"h","x":0.34,"y":0.25},{"c":"h","x":0.37,"y":0.41},{"c":"h","x":0.4,"y":0.2},{"c":"h","x":0.42,"y":0.15},{"c":"h","x":0.45,"y":0.1},{"c":"h","x":0.5,"y":0.1},{"c":"h","x":0.6,"y":0.1},{"c":"h","x":0.7,"y":0.15},{"c":"h","x":0.8,"y":0.4},{"c":"h","x":0.85,"y":0.6},{"c":"h","x":0.9,"y":0.88},{"c":"h","x":0.95,"y":0.9},{"c":"h","x":1.0,"y":1.1},{"c":"h","x":1.05,"y":1.02},{"c":"h","x":1.1,"y":0.95},{"c":"h","x":1.15,"y":0.9},{"c":"h","x":1.2,"y":0.83},{"c":"h","x":1.25,"y":0.5},{"c":"h","x":1.3,"y":0.45},{"c":"h","x":1.4,"y":0.32},{"c":"h","x":1.5,"y":0.25},{"c":"h","x":1.6,"y":0.23},{"c":"h","x":1.7,"y":0.15},{"c":"h","x":1.8,"y":0.18},{"c":"h","x":1.85,"y":0.2},{"c":"h","x":1.9,"y":0.2},{"c":"h","x":1.95,"y":0.18},{"c":"h","x":1.98,"y":0.17},
{"c":"l","x":0.1,"y":0.06},{"c":"l","x":0.15,"y":0.04},{"c":"l","x":0.2,"y":0.04},{"c":"l","x":0.22,"y":0.07},{"c":"l","x":0.3,"y":0.08},{"c":"l","x":0.37,"y":0.18},{"c":"l","x":0.42,"y":0.08},{"c":"l","x":0.5,"y":0.06},{"c":"l","x":0.6,"y":0.05},{"c":"l","x":0.7,"y":0.07},{"c":"l","x":0.8,"y":0.13},{"c":"l","x":0.9,"y":0.3},{"c":"l","x":0.95,"y":0.5},{"c":"l","x":1.0,"y":0.88},{"c":"l","x":1.03,"y":0.75},{"c":"l","x":1.07,"y":0.6},{"c":"l","x":1.13,"y":0.33},{"c":"l","x":1.15,"y":0.25},{"c":"l","x":1.2,"y":0.27},{"c":"l","x":1.25,"y":0.21},{"c":"l","x":1.3,"y":0.17},{"c":"l","x":1.4,"y":0.12},{"c":"l","x":1.5,"y":0.1},{"c":"l","x":1.6,"y":0.06},{"c":"l","x":1.7,"y":0.08},{"c":"l","x":1.8,"y":0.07},{"c":"l","x":1.9,"y":0.05},{"c":"l","x":1.97,"y":0.03},{"c":"l","x":2.0,"y":0.0}
],
"p3n":[
{"c":"m","x":0.1,"y":0.03},{"c":"m","x":0.15,"y":0.06},{"c":"m","x":0.18,"y":0.05},{"c":"m","x":0.22,"y":0.1},{"c":"m","x":0.27,"y":0.07},{"c":"m","x":0.3,"y":0.1},{"c":"m","x":0.35,"y":0.2},{"c":"m","x":0.37,"y":0.26},{"c":"m","x":0.4,"y":0.17},{"c":"m","x":0.43,"y":0.1},{"c":"m","x":0.5,"y":0.09},{"c":"m","x":0.55,"y":0.085},{"c":"m","x":0.6,"y":0.09},{"c":"m","x":0.65,"y":0.13},{"c":"m","x":0.7,"y":0.15},{"c":"m","x":0.75,"y":0.22},{"c":"m","x":0.8,"y":0.33},{"c":"m","x":0.85,"y":0.38},{"c":"m","x":0.9,"y":0.45},{"c":"m","x":0.95,"y":0.6},{"c":"m","x":1.0,"y":0.99},{"c":"m","x":1.03,"y":0.8},{"c":"m","x":1.07,"y":0.57},{"c":"m","x":1.1,"y":0.53},{"c":"m","x":1.15,"y":0.53},{"c":"m","x":1.2,"y":0.48},{"c":"m","x":1.25,"y":0.4},{"c":"m","x":1.3,"y":0.37},{"c":"m","x":1.35,"y":0.3},{"c":"m","x":1.4,"y":0.26},{"c":"m","x":1.45,"y":0.2},{"c":"m","x":1.5,"y":0.17},{"c":"m","x":1.6,"y":0.19},{"c":"m","x":1.7,"y":0.16},{"c":"m","x":1.8,"y":0.13},{"c":"m","x":1.9,"y":0.11},
{"c":"h","x":0.1,"y":0.05},{"c":"h","x":0.15,"y":0.08},{"c":"h","x":0.2,"y":0.07},{"c":"h","x":0.22,"y":0.16},{"c":"h","x":0.27,"y":0.1},{"c":"h","x":0.32,"y":0.2},{"c":"h","x":0.37,"y":0.39},{"c":"h","x":0.4,"y":0.25},{"c":"h","x":0.43,"y":0.14},{"c":"h","x":0.5,"y":0.12},{"c":"h","x":0.6,"y":0.12},{"c":"h","x":0.65,"y":0.17},{"c":"h","x":0.7,"y":0.22},{"c":"h","x":0.75,"y":0.35},{"c":"h","x":0.8,"y":0.53},{"c":"h","x":0.85,"y":0.55},{"c":"h","x":0.9,"y":0.6},{"c":"h","x":0.95,"y":0.75},{"c":"h","x":1.0,"y":1.0},{"c":"h","x":1.05,"y":0.75},{"c":"h","x":1.1,"y":0.7},{"c":"h","x":1.15,"y":0.73},{"c":"h","x":1.18,"y":0.75},{"c":"h","x":1.22,"y":0.6},{"c":"h","x":1.25,"y":0.42},{"c":"h","x":1.3,"y":0.45},{"c":"h","x":1.35,"y":0.4},{"c":"h","x":1.45,"y":0.33},{"c":"h","x":1.5,"y":0.25},{"c":"h","x":1.6,"y":0.27},{"c":"h","x":1.7,"y":0.22},{"c":"h","x":1.8,"y":0.2},{"c":"h","x":1.9,"y":0.15},{"c":"h","x":1.92,"y":0.18},
{"c":"l","x":0.1,"y":0.02},{"c":"l","x":0.2,"y":0.05},{"c":"l","x":0.22,"y":0.06},{"c":"l","x":0.3,"y":0.06},{"c":"l","x":0.37,"y":0.15},{"c":"l","x":0.42,"y":0.04},{"c":"l","x":0.5,"y":0.06},{"c":"l","x":0.6,"y":0.1},{"c":"l","x":0.7,"y":0.1},{"c":"l","x":0.8,"y":0.19},{"c":"l","x":0.9,"y":0.35},{"c":"l","x":0.95,"y":0.45},{"c":"l","x":1.0,"y":0.96},{"c":"l","x":1.02,"y":0.7},{"c":"l","x":1.05,"y":0.45},{"c":"l","x":1.1,"y":0.33},{"c":"l","x":1.15,"y":0.3},{"c":"l","x":1.2,"y":0.28},{"c":"l","x":1.25,"y":0.26},{"c":"l","x":1.3,"y":0.2},{"c":"l","x":1.4,"y":0.12},{"c":"l","x":1.5,"y":0.1},{"c":"l","x":1.6,"y":0.1},{"c":"l","x":1.7,"y":0.11},{"c":"l","x":1.8,"y":0.08},{"c":"l","x":1.9,"y":0.07}
],
"p4e":[
{"c":"m5","x":0.3,"y":2.3},{"c":"m5","x":0.4,"y":1.2},{"c":"m5","x":0.5,"y":0.8},{"c":"m5","x":0.6,"y":1.5},{"c":"m5","x":0.7,"y":2.5},{"c":"m5","x":0.75,"y":3.8},{"c":"m5","x":0.8,"y":2.5},{"c":"m5","x":0.9,"y":2.2},{"c":"m5","x":1.0,"y":2.8},{"c":"m5","x":1.08,"y":6},{"c":"m5","x":1.15,"y":8.3},{"c":"m5","x":1.22,"y":6},{"c":"m5","x":1.3,"y":3.5},{"c":"m5","x":1.4,"y":2.6},{"c":"m5","x":1.5,"y":2.2},{"c":"m5","x":1.7,"y":1.8},{"c":"m5","x":1.9,"y":2.0},{"c":"m5","x":2.0,"y":2.3},{"c":"m5","x":2.2,"y":3},{"c":"m5","x":2.3,"y":4},{"c":"m5","x":2.4,"y":5.5},{"c":"m5","x":2.5,"y":8},{"c":"m5","x":2.6,"y":11.5},{"c":"m5","x":2.7,"y":15},{"c":"m5","x":2.8,"y":18},{"c":"m5","x":2.9,"y":19.3},{"c":"m5","x":2.95,"y":20},{"c":"m5","x":3.0,"y":23},{"c":"m5","x":3.05,"y":27},{"c":"m5","x":3.12,"y":29},{"c":"m5","x":3.18,"y":27},{"c":"m5","x":3.25,"y":23},{"c":"m5","x":3.3,"y":21.5},{"c":"m5","x":3.4,"y":21},{"c":"m5","x":3.5,"y":20},{"c":"m5","x":3.6,"y":17},{"c":"m5","x":3.7,"y":13.5},{"c":"m5","x":3.8,"y":11},{"c":"m5","x":3.9,"y":10},{"c":"m5","x":4.0,"y":9},{"c":"m5","x":4.1,"y":7.8},{"c":"m5","x":4.2,"y":7},{"c":"m5","x":4.3,"y":6},{"c":"m5","x":4.4,"y":5.5},{"c":"m5","x":4.5,"y":5.3},{"c":"m5","x":4.6,"y":5.2},{"c":"m5","x":4.7,"y":4.5},{"c":"m5","x":4.8,"y":3.8},{"c":"m5","x":4.9,"y":3.2},{"c":"m5","x":5.0,"y":2.9},{"c":"m5","x":5.2,"y":3.1},{"c":"m5","x":5.4,"y":3.4},{"c":"m5","x":5.6,"y":3.6},{"c":"m5","x":5.8,"y":3.9},{"c":"m5","x":6.0,"y":3.7},{"c":"m5","x":6.12,"y":3.3},{"c":"m5","x":6.18,"y":4.6},
{"c":"m8","x":0.3,"y":1.5},{"c":"m8","x":0.4,"y":0.7},{"c":"m8","x":0.5,"y":0.6},{"c":"m8","x":0.6,"y":1.2},{"c":"m8","x":0.7,"y":1.0},{"c":"m8","x":0.8,"y":1.1},{"c":"m8","x":0.85,"y":2.3},{"c":"m8","x":0.9,"y":2.0},{"c":"m8","x":1.0,"y":1.3},{"c":"m8","x":1.1,"y":1.2},{"c":"m8","x":1.2,"y":1.8},{"c":"m8","x":1.3,"y":3.5},{"c":"m8","x":1.4,"y":5.2},{"c":"m8","x":1.5,"y":3.8},{"c":"m8","x":1.6,"y":2.6},{"c":"m8","x":1.8,"y":2.0},{"c":"m8","x":2.0,"y":1.6},{"c":"m8","x":2.2,"y":1.4},{"c":"m8","x":2.4,"y":1.5},{"c":"m8","x":2.6,"y":2},{"c":"m8","x":2.8,"y":3.2},{"c":"m8","x":2.9,"y":4.5},{"c":"m8","x":3.0,"y":6},{"c":"m8","x":3.1,"y":8},{"c":"m8","x":3.2,"y":9.5},{"c":"m8","x":3.3,"y":10.5},{"c":"m8","x":3.4,"y":11.5},{"c":"m8","x":3.5,"y":12},{"c":"m8","x":3.6,"y":13.5},{"c":"m8","x":3.7,"y":16},{"c":"m8","x":3.8,"y":17.8},{"c":"m8","x":3.87,"y":17},{"c":"m8","x":3.95,"y":15},{"c":"m8","x":4.05,"y":14},{"c":"m8","x":4.15,"y":13.5},{"c":"m8","x":4.25,"y":12.5},{"c":"m8","x":4.35,"y":11.5},{"c":"m8","x":4.45,"y":10},{"c":"m8","x":4.55,"y":8},{"c":"m8","x":4.65,"y":7},{"c":"m8","x":4.75,"y":6.2},{"c":"m8","x":4.85,"y":5.7},{"c":"m8","x":5.0,"y":4.8},{"c":"m8","x":5.2,"y":3.8},{"c":"m8","x":5.4,"y":3.5},{"c":"m8","x":5.6,"y":3.2},{"c":"m8","x":5.8,"y":2.7},{"c":"m8","x":6.0,"y":2.1},{"c":"m8","x":6.2,"y":1.9},{"c":"m8","x":6.4,"y":2.0},{"c":"m8","x":6.7,"y":2.2},{"c":"m8","x":7,"y":2.2}
],
"p4n":[
{"c":"m5","x":0.3,"y":1.2},{"c":"m5","x":0.4,"y":0.5},{"c":"m5","x":0.5,"y":1.5},{"c":"m5","x":0.6,"y":1.2},{"c":"m5","x":0.7,"y":2.9},{"c":"m5","x":0.8,"y":1.8},{"c":"m5","x":0.9,"y":2.5},{"c":"m5","x":1.0,"y":3.5},{"c":"m5","x":1.1,"y":6},{"c":"m5","x":1.2,"y":7.8},{"c":"m5","x":1.3,"y":5},{"c":"m5","x":1.4,"y":3},{"c":"m5","x":1.6,"y":2.5},{"c":"m5","x":1.8,"y":3},{"c":"m5","x":2.0,"y":4.2},{"c":"m5","x":2.15,"y":4.8},{"c":"m5","x":2.3,"y":8},{"c":"m5","x":2.4,"y":10},{"c":"m5","x":2.6,"y":12},{"c":"m5","x":2.8,"y":14.5},{"c":"m5","x":2.9,"y":19},{"c":"m5","x":3.0,"y":25},{"c":"m5","x":3.08,"y":29},{"c":"m5","x":3.15,"y":25},{"c":"m5","x":3.22,"y":18},{"c":"m5","x":3.3,"y":16},{"c":"m5","x":3.4,"y":15.2},{"c":"m5","x":3.5,"y":15.5},{"c":"m5","x":3.6,"y":15},{"c":"m5","x":3.7,"y":13.5},{"c":"m5","x":3.8,"y":12},{"c":"m5","x":3.9,"y":11},{"c":"m5","x":4.0,"y":10},{"c":"m5","x":4.2,"y":9.5},{"c":"m5","x":4.4,"y":9.5},{"c":"m5","x":4.6,"y":8.5},{"c":"m5","x":4.8,"y":7},{"c":"m5","x":5.0,"y":6.3},{"c":"m5","x":5.2,"y":5},{"c":"m5","x":5.5,"y":4},{"c":"m5","x":5.8,"y":3.2},{"c":"m5","x":6.0,"y":3.3},{"c":"m5","x":6.3,"y":3.0},{"c":"m5","x":6.6,"y":2.6},{"c":"m5","x":7,"y":2.3},
{"c":"m8","x":0.3,"y":1.0},{"c":"m8","x":0.4,"y":0.6},{"c":"m8","x":0.5,"y":1.8},{"c":"m8","x":0.6,"y":1.3},{"c":"m8","x":0.7,"y":1.0},{"c":"m8","x":0.9,"y":1.5},{"c":"m8","x":1.0,"y":1.0},{"c":"m8","x":1.2,"y":2},{"c":"m8","x":1.35,"y":4.8},{"c":"m8","x":1.5,"y":3},{"c":"m8","x":1.6,"y":2.2},{"c":"m8","x":1.8,"y":1.6},{"c":"m8","x":2.0,"y":1.5},{"c":"m8","x":2.2,"y":1.8},{"c":"m8","x":2.4,"y":2.5},{"c":"m8","x":2.6,"y":2.8},{"c":"m8","x":2.8,"y":4},{"c":"m8","x":2.9,"y":5.8},{"c":"m8","x":3.1,"y":7},{"c":"m8","x":3.3,"y":8},{"c":"m8","x":3.5,"y":11},{"c":"m8","x":3.6,"y":14},{"c":"m8","x":3.7,"y":17.8},{"c":"m8","x":3.8,"y":14},{"c":"m8","x":3.9,"y":12},{"c":"m8","x":4.0,"y":10.5},{"c":"m8","x":4.1,"y":9.8},{"c":"m8","x":4.2,"y":9.5},{"c":"m8","x":4.4,"y":8},{"c":"m8","x":4.6,"y":6.5},{"c":"m8","x":4.8,"y":5},{"c":"m8","x":5.0,"y":5.5},{"c":"m8","x":5.2,"y":5.0},{"c":"m8","x":5.5,"y":4},{"c":"m8","x":5.8,"y":3.3},{"c":"m8","x":6.0,"y":3.4},{"c":"m8","x":6.3,"y":3.0},{"c":"m8","x":6.6,"y":2.6},{"c":"m8","x":7,"y":2.3}
]
}
}
